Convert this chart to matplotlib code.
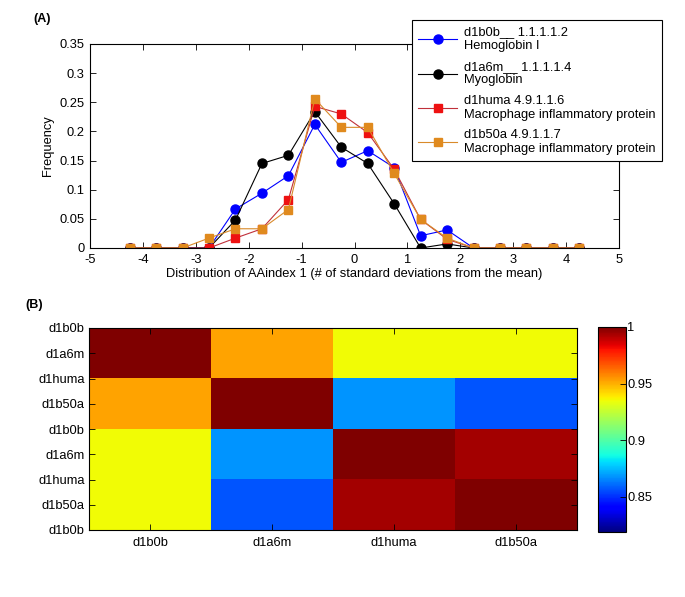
import numpy as np
import matplotlib
matplotlib.use('Agg')
import matplotlib.pyplot as plt

plt.rcParams['font.family'] = ['Liberation Sans', 'DejaVu Sans']
plt.rcParams['font.size'] = 9.3
plt.rcParams['axes.unicode_minus'] = False

# bin centres (std devs from the mean)
bins = [-4.25, -3.75, -3.25, -2.75, -2.25, -1.75, -1.25, -0.75, -0.25,
        0.25, 0.75, 1.25, 1.75, 2.25, 2.75, 3.25, 3.75, 4.25]

freq_d1b0b = [0, 0, 0, 0, 0.067, 0.094, 0.124, 0.212, 0.147,
              0.167, 0.138, 0.021, 0.031, 0, 0, 0, 0, 0]
freq_d1a6m = [0, 0, 0, 0, 0.048, 0.145, 0.159, 0.234, 0.173,
              0.145, 0.076, 0, 0.007, 0, 0, 0, 0, 0]
freq_d1huma = [0, 0, 0, 0, 0.017, 0.033, 0.083, 0.243, 0.230,
               0.198, 0.135, 0.049, 0.015, 0, 0, 0, 0, 0]
freq_d1b50a = [0, 0, 0, 0.017, 0.033, 0.033, 0.066, 0.256, 0.207,
               0.207, 0.128, 0.049, 0.017, 0, 0, 0, 0, 0]

labels = ['d1b0b__ 1.1.1.1.2\nHemoglobin I',
          'd1a6m__ 1.1.1.1.4\nMyoglobin',
          'd1huma 4.9.1.1.6\nMacrophage inflammatory protein',
          'd1b50a 4.9.1.1.7\nMacrophage inflammatory protein']

names = ['d1b0b', 'd1a6m', 'd1huma', 'd1b50a']
sim = np.array([[1.000, 0.952, 0.935, 0.935],
                [0.952, 1.000, 0.868, 0.857],
                [0.935, 0.868, 1.000, 0.994],
                [0.935, 0.857, 0.994, 1.000]])

W, H = 685, 597
fig = plt.figure(figsize=(W / 100, H / 100), dpi=100)

# ---- (A) frequency distributions ----
ax1 = fig.add_axes([90 / W, 1 - 248 / H, 529 / W, 204 / H])
ax1.plot(bins, freq_d1b0b, '-o', color='#0000ff', ms=6.5, lw=0.8, label=labels[0])
ax1.plot(bins, freq_d1a6m, '-o', color='black', ms=6.5, lw=0.8, label=labels[1])
ax1.plot(bins, freq_d1huma, '-s', color='#c0303a', mfc='#ee1111', mec='#ee1111',
         ms=6, lw=0.8, label=labels[2])
ax1.plot(bins, freq_d1b50a, '-s', color='#d98a2a', mfc='#e08a1e', mec='#e08a1e',
         ms=6, lw=0.8, label=labels[3])
ax1.set_xlim(-5, 5)
ax1.set_ylim(0, 0.35)
ax1.set_xticks(range(-5, 6))
ax1.set_yticks(np.arange(0, 0.36, 0.05))
ax1.set_yticklabels(['0', '0.05', '0.1', '0.15', '0.2', '0.25', '0.3', '0.35'])
ax1.tick_params(direction='in', top=True, right=True, length=4, width=0.6)
ax1.tick_params(axis='x', pad=4)
ax1.tick_params(axis='y', pad=4)
for s in ax1.spines.values():
    s.set_linewidth(0.8)
ax1.set_xlabel('Distribution of AAindex 1 (# of standard deviations from the mean)',
               labelpad=2)
ax1.set_ylabel('Frequency', labelpad=4)
leg = ax1.legend(loc='upper left', bbox_to_anchor=(412 / W, 1 - 20 / H),
                 bbox_transform=fig.transFigure, fancybox=False, framealpha=1,
                 edgecolor='black', fontsize=9.3, handlelength=3.0,
                 handletextpad=0.5, borderaxespad=0, labelspacing=0.65,
                 borderpad=0.5)
leg.get_frame().set_linewidth(0.8)
fig.text(33 / W, 1 - 19 / H, '(A)', fontsize=9, fontweight='bold', va='center')

# ---- (B) similarity heat map ----
ax2 = fig.add_axes([89 / W, 1 - 530 / H, 488 / W, 202 / H])
im = ax2.imshow(sim, cmap='jet', vmin=0.819, vmax=1.0, aspect='auto',
                interpolation='nearest', extent=(0.5, 4.5, 4.5, 0.5))
ax2.set_xticks([1, 2, 3, 4])
ax2.set_xticklabels(names)
yt = np.arange(0.5, 4.51, 0.5)
ax2.set_yticks(yt)
ax2.set_yticklabels([names[i % 4] for i in range(len(yt))])
ax2.tick_params(direction='in', top=True, right=True, length=4, width=0.6, pad=3)
ax2.tick_params(axis='x', pad=5)
for s in ax2.spines.values():
    s.set_linewidth(0.8)

cax = fig.add_axes([598 / W, 1 - 532 / H, 28 / W, 205 / H])
cb = fig.colorbar(im, cax=cax, ticks=[0.85, 0.9, 0.95, 1.0])
cb.ax.set_yticklabels(['0.85', '0.9', '0.95', '1'])
cb.ax.tick_params(direction='in', length=4, width=0.6, pad=1)
cb.outline.set_linewidth(0.8)
fig.text(25 / W, 1 - 305 / H, '(B)', fontsize=9, fontweight='bold', va='center')

fig.savefig('out.png', dpi=100)
